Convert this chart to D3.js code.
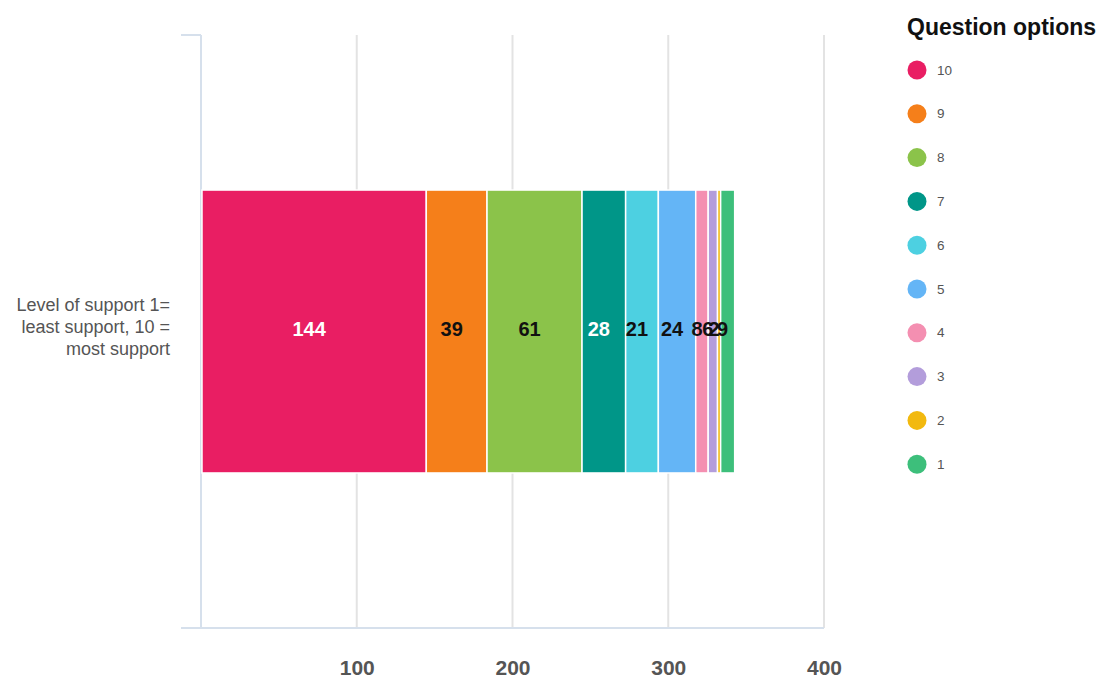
<!DOCTYPE html>
<html>
<head>
<meta charset="utf-8">
<script src="https://cdn.jsdelivr.net/npm/d3@7"></script>
<style>
  html, body { margin: 0; padding: 0; background: #fff; }
  svg { display: block; font-family: "Liberation Sans", Arial, Helvetica, sans-serif; }
</style>
</head>
<body>
<svg id="chart" width="1099" height="678"></svg>
<script>
// Stacked bar: level of support responses
const categories = ["Level of support 1= least support, 10 = most support"];
const options = ["10", "9", "8", "7", "6", "5", "4", "3", "2", "1"];
const counts = [144, 39, 61, 28, 21, 24, 8, 6, 2, 9];
const colors = ["#e91e63", "#f57f1a", "#8bc34a", "#009688", "#4dd0e1", "#64b5f6", "#f48fb1", "#b39ddb", "#f2b90f", "#3dbf7b"];
const labelColors = ["#ffffff", "#111111", "#111111", "#ffffff", "#111111", "#111111", "#111111", "#111111", "#111111", "#111111"];
const xTicks = [100, 200, 300, 400];

const svg = d3.select("#chart");
const plotLeft = 201, plotRight = 824, plotTop = 35, plotBottom = 628;

const x = d3.scaleLinear().domain([0, 400]).range([plotLeft, plotRight]);
const y = d3.scaleBand().domain(categories).range([plotTop, plotBottom]).paddingInner(0.5).paddingOuter(0.274);

// grid lines
svg.append("g").selectAll("line").data(xTicks).join("line")
  .attr("x1", d => x(d)).attr("x2", d => x(d))
  .attr("y1", plotTop).attr("y2", plotBottom)
  .attr("stroke", "#e3e3e3").attr("stroke-width", 2);

// axis lines
svg.append("line").attr("x1", plotLeft).attr("x2", plotLeft).attr("y1", plotTop).attr("y2", plotBottom)
  .attr("stroke", "#d6e0ec").attr("stroke-width", 2);
svg.append("line").attr("x1", 181).attr("x2", plotLeft).attr("y1", plotTop).attr("y2", plotTop)
  .attr("stroke", "#d6e0ec").attr("stroke-width", 2);
svg.append("line").attr("x1", 181).attr("x2", plotRight).attr("y1", plotBottom).attr("y2", plotBottom)
  .attr("stroke", "#d6e0ec").attr("stroke-width", 2);

// x tick labels
const xAxis = d3.axisBottom(x).tickValues(xTicks).tickSize(0).tickPadding(0);
const gx = svg.append("g").attr("transform", `translate(0,${plotBottom + 47})`).call(xAxis);
gx.select(".domain").remove();
gx.selectAll("text")
  .attr("dy", 0)
  .attr("font-size", 21).attr("font-weight", "bold").attr("fill", "#555")
  .attr("font-family", "Liberation Sans, Arial, sans-serif");

// category label
const cat = categories[0];
const catLines = ["Level of support 1=", "least support, 10 =", "most support"];
svg.append("text")
  .attr("text-anchor", "end").attr("font-size", 18).attr("fill", "#555")
  .selectAll("tspan").data(catLines).join("tspan")
  .attr("x", 170)
  .attr("y", (d, i) => y(cat) + y.bandwidth() / 2 - 20.5 + i * 22)
  .text(d => d);

// stacked segments
let acc = 0;
const segs = counts.map((v, i) => {
  const s = { key: options[i], v, x0: acc, x1: acc + v, color: colors[i], lc: labelColors[i] };
  acc += v;
  return s;
});

const bars = svg.append("g");
bars.selectAll("rect").data(segs).join("rect")
  .attr("x", d => x(d.x0) + 1)
  .attr("y", y(cat))
  .attr("width", d => Math.max(0, x(d.x1) - x(d.x0)))
  .attr("height", y.bandwidth())
  .attr("fill", d => d.color)
  .attr("stroke", "#fff").attr("stroke-width", 1.5);

bars.selectAll("text").data(segs).join("text")
  .attr("x", d => x((d.x0 + d.x1) / 2) - 4)
  .attr("y", y(cat) + y.bandwidth() / 2 + 4.5)
  .attr("text-anchor", "middle")
  .attr("font-size", 20).attr("font-weight", "bold")
  .attr("fill", d => d.lc)
  .text(d => d.v);

// legend
const legend = svg.append("g");
legend.append("text").attr("x", 907).attr("y", 35)
  .attr("font-size", 23).attr("font-weight", "bold").attr("fill", "#111")
  .text("Question options");
const li = legend.selectAll("g.item").data(options).join("g").attr("class", "item")
  .attr("transform", (d, i) => `translate(917,${70 + i * 43.8})`);
li.append("circle").attr("r", 9.5).attr("fill", (d, i) => colors[i]);
li.append("text").attr("x", 20).attr("y", 4.5).attr("font-size", 13.5).attr("fill", "#555").text(d => d);
</script>
</body>
</html>
